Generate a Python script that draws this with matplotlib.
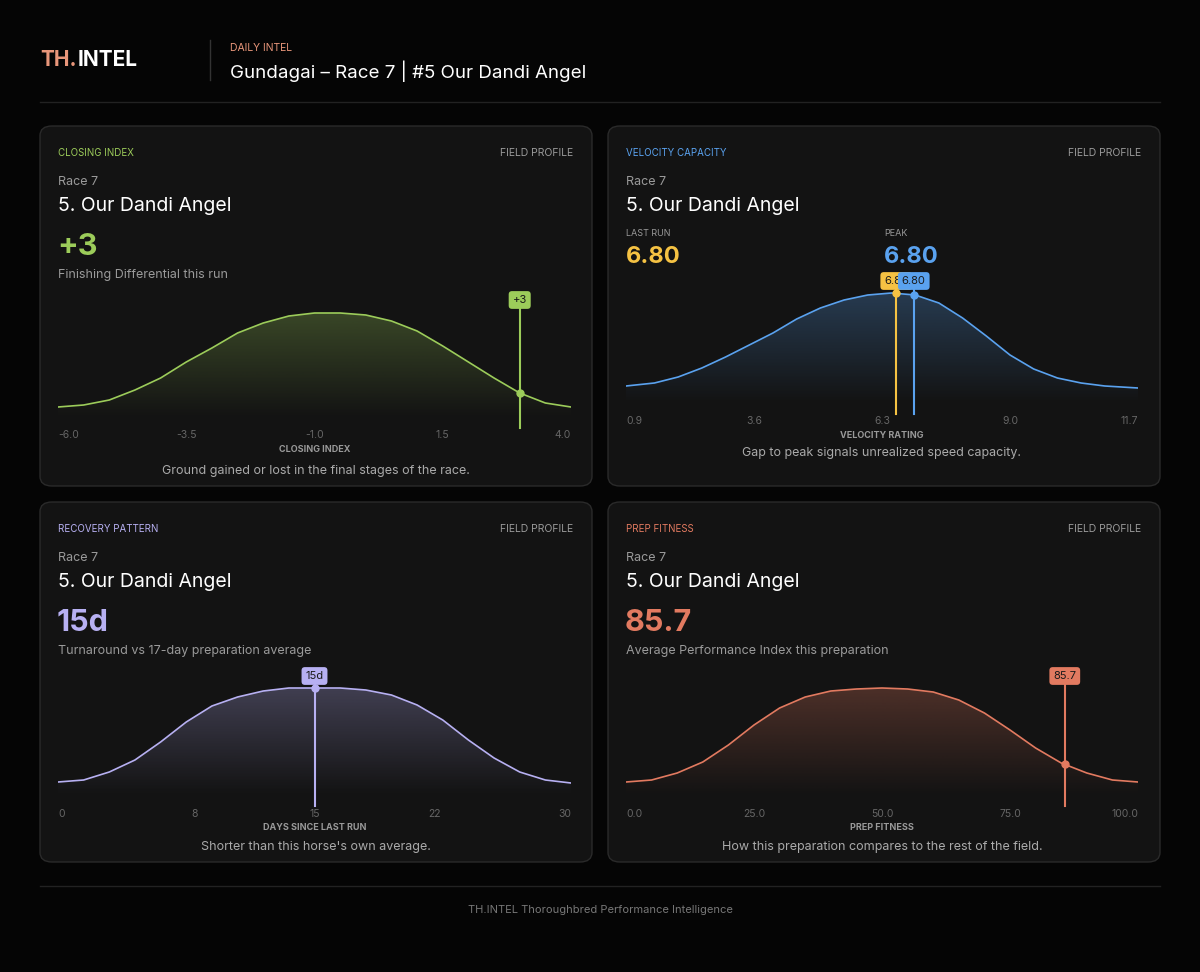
import numpy as np
import matplotlib
matplotlib.use("Agg")
import matplotlib.pyplot as plt
from matplotlib.patches import FancyBboxPatch
from matplotlib.colors import to_rgba

plt.rcParams['font.family'] = ['Inter', 'DejaVu Sans']

W, H = 1200, 972
BG = '#050505'
CARD = '#131313'
EDGE = '#2a2a2a'

# ---- data ----
close_x = np.arange(-6, 4.01, 0.5)
close_d = [11, 13, 18, 28, 40, 56, 70, 85, 95, 102, 105, 105, 103, 97, 87, 72, 56, 40, 25, 15, 11]
close_ticks = [-6.0, -3.5, -1.0, 1.5, 4.0]
close_val = 3

vel_x = [0.9, 1.5, 2.0, 2.5, 3.0, 3.5, 4.0, 4.5, 5.0, 5.5, 6.0, 6.5, 7.0, 7.5, 8.0, 8.5, 9.0, 9.5, 10.0, 10.5, 11.0, 11.7]
vel_d = [18, 21, 27, 36, 47, 59, 71, 85, 96, 104, 109, 111, 109, 101, 86, 68, 49, 35, 26, 21, 18, 16]
vel_ticks = [0.9, 3.6, 6.3, 9.0, 11.7]
vel_last, vel_peak = 6.80, 6.80
vel_last_pos, vel_peak_pos = 6.6, 6.97

rec_x = np.arange(0, 30.01, 1.5)
rec_d = [14, 16, 24, 36, 54, 74, 90, 99, 105, 108, 108, 108, 106, 101, 91, 76, 56, 38, 24, 16, 13]
rec_ticks = [0, 8, 15, 22, 30]
rec_val = 15

prep_x = np.arange(0, 100.01, 5)
prep_d = [14, 16, 23, 34, 51, 71, 88, 99, 105, 107, 108, 107, 104, 96, 83, 66, 48, 33, 23, 16, 14]
prep_ticks = [0.0, 25.0, 50.0, 75.0, 100.0]
prep_val = 85.7

fig = plt.figure(figsize=(W / 100, H / 100), dpi=100, facecolor=BG)


def fx(x):
    return x / W


def fy(y):
    return 1 - y / H


def txt(x, y, s, size, color, weight='normal', ha='left', va='center'):
    fig.text(fx(x), fy(y), s, fontsize=size, color=color, fontweight=weight, ha=ha, va=va)


# header
txt(40, 60, 'TH.', 15, '#e8967a', 'bold')
txt(78, 60, 'INTEL', 15, 'white', 'bold')
fig.add_artist(plt.Line2D([fx(210), fx(210)], [fy(40), fy(80)], color='#333333', lw=1))
txt(230, 48, 'DAILY INTEL', 7.5, '#e8967a')
txt(230, 71, 'Gundagai – Race 7 | #5 Our Dandi Angel', 13.5, 'white')
fig.add_artist(plt.Line2D([fx(40), fx(1160)], [fy(102), fy(102)], color='#222222', lw=1))
fig.add_artist(plt.Line2D([fx(40), fx(1160)], [fy(886), fy(886)], color='#222222', lw=1))
txt(600, 910, 'TH.INTEL Thoroughbred Performance Intelligence', 8, '#777777', ha='center')


def card(cx, cy, label, color, value, sub):
    box = FancyBboxPatch((fx(cx), fy(cy + 360)), 552 / W, 360 / H,
                         boxstyle='round,pad=0,rounding_size=0.01',
                         transform=fig.transFigure, fc=CARD, ec=EDGE, lw=1, zorder=-5)
    fig.add_artist(box)
    txt(cx + 18, cy + 27, label, 7, color)
    txt(cx + 533, cy + 27, 'FIELD PROFILE', 7.5, '#9a9a9a', ha='right')
    txt(cx + 18, cy + 56, 'Race 7', 9, '#9a9a9a')
    txt(cx + 18, cy + 80, '5. Our Dandi Angel', 14, 'white')
    if value:
        txt(cx + 17, cy + 121, value, 22, color, 'bold')
        txt(cx + 18, cy + 149, sub, 9, '#9a9a9a')


def curve(x0, x1, base, top, xs, ds, ticks, color, xlabel):
    ax = fig.add_axes([fx(x0), fy(base), (x1 - x0) / W, (base - top) / H])
    ax.set_facecolor('none')
    ax.set_xlim(xs[0], xs[-1])
    ax.plot(xs, ds, color=color, lw=1.2, zorder=3)
    poly = ax.fill_between(xs, ds, 0, color='none')
    grad = np.zeros((100, 1, 4))
    grad[:, 0, :3] = to_rgba(color)[:3]
    grad[:, 0, 3] = np.linspace(0.28, 0.0, 100)
    im = ax.imshow(grad, extent=[xs[0], xs[-1], 0, max(ds)], aspect='auto', origin='upper', zorder=2)
    im.set_clip_path(poly.get_paths()[0], transform=ax.transData)
    ax.set_xlim(xs[0], xs[-1])
    ax.set_ylim(0, base - top)
    for s in ax.spines.values():
        s.set_visible(False)
    ax.set_yticks([])
    ax.set_xticks(ticks)
    ax.set_xticklabels([f'{t:g}' if isinstance(t, int) else f'{t:.1f}' for t in ticks])
    ax.tick_params(axis='x', length=0, labelsize=7.5, labelcolor='#666666', pad=9)
    labs = ax.get_xticklabels()
    labs[0].set_ha('left')
    labs[-1].set_ha('right')
    ax.set_xlabel(xlabel, fontsize=6.5, color='#999999', fontweight='bold', labelpad=3)
    return ax


def marker(ax, xs, ds, pos, text, color, pill_y, zorder=5):
    yv = np.interp(pos, xs, ds)
    ax.plot([pos, pos], [-10, pill_y], color=color, lw=1.5, zorder=zorder, clip_on=False)
    ax.plot([pos], [yv], 'o', color=color, ms=5, zorder=zorder + 1, clip_on=False)
    ax.text(pos, pill_y, text, fontsize=8, color='#1a1a1a', ha='center', va='center', zorder=zorder + 2,
            bbox=dict(boxstyle='round,pad=0.35,rounding_size=0.3', fc=color, ec='none'), clip_on=False)


GREEN = '#9ccc5a'
BLUE = '#5aa2ef'
LAV = '#b7b0f2'
SAL = '#e27a60'
YEL = '#f5c243'

card(40, 126, 'CLOSING INDEX', GREEN, '+3', 'Finishing Differential this run')
ax = curve(58, 571, 418, 290, close_x, close_d, close_ticks, GREEN, 'CLOSING INDEX')
marker(ax, close_x, close_d, close_val, '+3', GREEN, 118)
txt(316, 471, 'Ground gained or lost in the final stages of the race.', 9, '#aaaaaa', ha='center')

card(608, 126, 'VELOCITY CAPACITY', BLUE, None, None)
txt(626, 234, 'LAST RUN', 6.5, '#9a9a9a')
txt(626, 257, f'{vel_last:.2f}', 17, YEL, 'bold')
txt(884, 234, 'PEAK', 6.5, '#9a9a9a')
txt(884, 257, f'{vel_peak:.2f}', 17, BLUE, 'bold')
ax = curve(626, 1138, 404, 270, vel_x, vel_d, vel_ticks, BLUE, 'VELOCITY RATING')
marker(ax, vel_x, vel_d, vel_last_pos, f'{vel_last:.2f}', YEL, 123)
marker(ax, vel_x, vel_d, vel_peak_pos, f'{vel_peak:.2f}', BLUE, 123, zorder=10)
txt(882, 453, 'Gap to peak signals unrealized speed capacity.', 9, '#aaaaaa', ha='center')

card(40, 502, 'RECOVERY PATTERN', LAV, '15d', 'Turnaround vs 17-day preparation average')
ax = curve(58, 571, 796, 666, rec_x, rec_d, rec_ticks, LAV, 'DAYS SINCE LAST RUN')
marker(ax, rec_x, rec_d, rec_val, '15d', LAV, 120)
txt(316, 847, "Shorter than this horse's own average.", 9, '#aaaaaa', ha='center')

card(608, 502, 'PREP FITNESS', SAL, f'{prep_val}', 'Average Performance Index this preparation')
ax = curve(626, 1138, 796, 666, prep_x, prep_d, prep_ticks, SAL, 'PREP FITNESS')
marker(ax, prep_x, prep_d, prep_val, f'{prep_val}', SAL, 120)
txt(882, 847, 'How this preparation compares to the rest of the field.', 9, '#aaaaaa', ha='center')

fig.savefig('out.png', dpi=100, facecolor=BG)
